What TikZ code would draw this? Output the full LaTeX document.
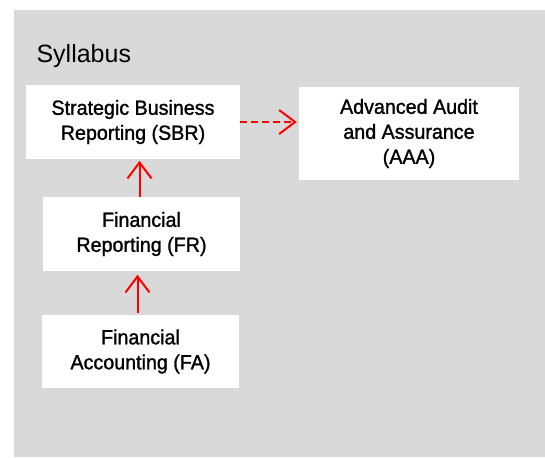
\documentclass[tikz,border=0pt]{standalone}
\usepackage{fontspec}
\setmainfont{Liberation Sans}
\newfontfamily\boxfont[FakeBold=1.3,FakeStretch=0.96]{Liberation Sans}
\usetikzlibrary{arrows.meta}

\definecolor{panelgray}{RGB}{217,217,217}

\tikzset{
  course/.style={fill=white, inner sep=0pt, align=center,
    font=\boxfont\fontsize{20.5}{25}\selectfont},
  prereq/.style={red, line width=2pt,
    -{Straight Barb[length=16pt,width=24pt,line width=2pt]}},
}

\begin{document}
\begin{tikzpicture}[x=1pt,y=-1pt]
        \useasboundingbox (0,0) rectangle (545,457);
        \fill[panelgray] (14,10) rectangle (545,457);
        \node[anchor=base west, font=\fontsize{25}{30}\selectfont] (title) at (33,63) {Syllabus};
        \node[course, minimum width=214pt, minimum height=74pt] (sbr) at (133,122) {Strategic Business\\Reporting (SBR)};
        \node[course, minimum width=220pt, minimum height=93pt] (aaa) at (409,133.5) {Advanced Audit\\and Assurance\\(AAA)};
        \node[course, minimum width=197pt, minimum height=74pt] (fr) at (141.5,234) {Financial\\Reporting (FR)};
        \node[course, minimum width=197pt, minimum height=73pt] (fa) at (140.5,351.5) {Financial\\Accounting (FA)};
        \draw[prereq] (fr.north) ++(-2,0) -- ++(0,-36);
        \draw[prereq] (fa.north -| fr.south) ++(-4,-2) -- ++(0,-38);
        \draw[prereq, dash pattern=on 7pt off 4pt] (sbr.east) -- ([xshift=-2pt]sbr.east -| aaa.west);
      \end{tikzpicture}
\end{document}
